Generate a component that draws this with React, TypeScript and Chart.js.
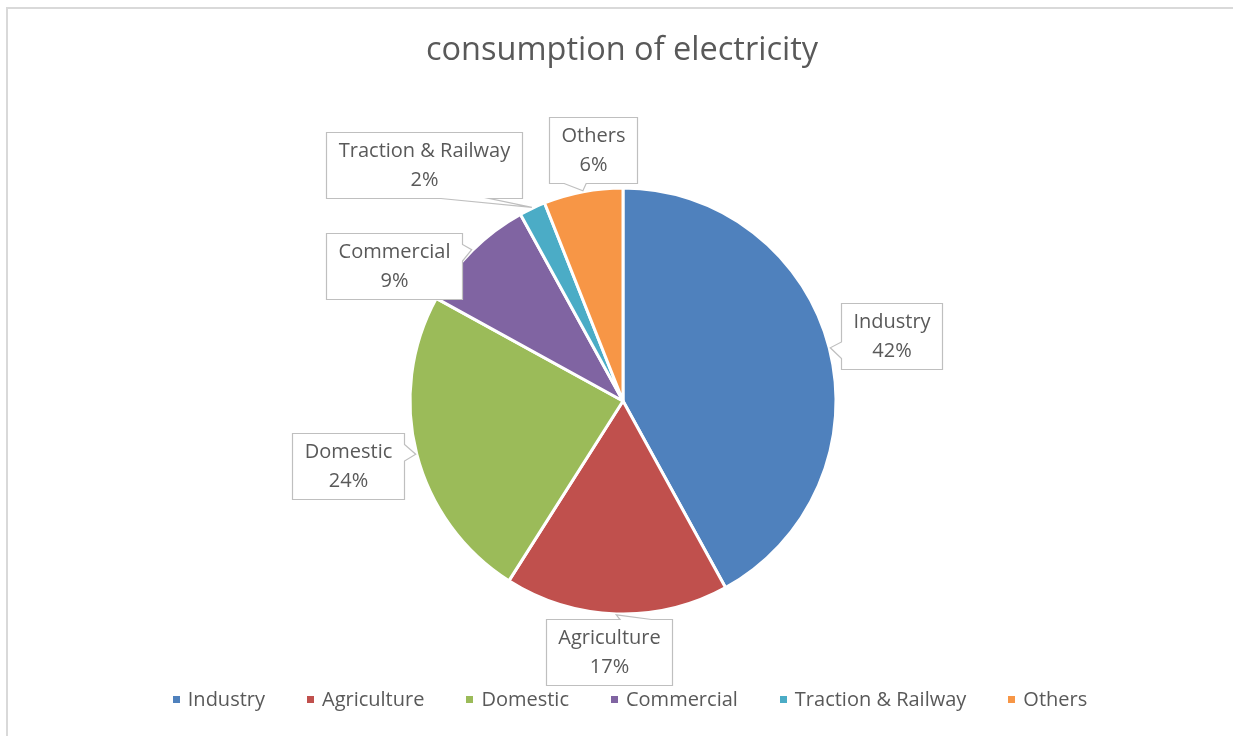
import React, { useEffect, useRef } from "react";
import { Chart, registerables } from "chart.js";

Chart.register(...registerables);

const titleText = "consumption of electricity";
const categories = ["Industry", "Agriculture", "Domestic", "Commercial", "Traction & Railway", "Others"];
const shares = [42, 17, 24, 9, 2, 6];
const colors = ["#4F81BD", "#C0504D", "#9BBB59", "#8064A2", "#4BACC6", "#F79646"];
// callout box centre offsets relative to the slice's outer mid point (layout only)
const labelOffsets = [
  [61.5, -11.5],
  [-7, 37.5],
  [-68, 12],
  [-78, 16],
  [-108, -42],
  [10.5, -41],
];

const TEXT = "#595959";
const FONT = '"Open Sans", "Noto Sans", sans-serif';
const LABEL_SIZE = 20;
const LINE_H = 29;

function drawCallout(ctx: CanvasRenderingContext2D, l: number, t: number, w: number, h: number, tx: number, ty: number) {
  const r = l + w, b = t + h, hc = l + w / 2, vc = t + h / 2;
  const dx = tx - hc, dy = ty - vc;
  const dq = (dx * h) / w;
  const inside = tx > l && tx < r && ty > t && ty < b;
  const vertical = Math.abs(dy) > Math.abs(dq);
  const xf = dx > 0 ? [7, 10] : [2, 5];
  const yf = dy > 0 ? [7, 10] : [2, 5];
  const x1 = l + (w * xf[0]) / 12, x2 = l + (w * xf[1]) / 12;
  const y1 = t + (h * yf[0]) / 12, y2 = t + (h * yf[1]) / 12;
  ctx.beginPath();
  ctx.moveTo(l, t);
  if (!inside && vertical && dy < 0) { ctx.lineTo(x1, t); ctx.lineTo(tx, ty); ctx.lineTo(x2, t); }
  ctx.lineTo(r, t);
  if (!inside && !vertical && dx > 0) { ctx.lineTo(r, y1); ctx.lineTo(tx, ty); ctx.lineTo(r, y2); }
  ctx.lineTo(r, b);
  if (!inside && vertical && dy > 0) { ctx.lineTo(x2, b); ctx.lineTo(tx, ty); ctx.lineTo(x1, b); }
  ctx.lineTo(l, b);
  if (!inside && !vertical && dx < 0) { ctx.lineTo(l, y2); ctx.lineTo(tx, ty); ctx.lineTo(l, y1); }
  ctx.closePath();
  ctx.fillStyle = "#FFFFFF";
  ctx.fill();
  ctx.strokeStyle = "#BFBFBF";
  ctx.lineWidth = 1.2;
  ctx.stroke();
}

const decorPlugin = {
  id: "decor",
  beforeDraw(chart: any) {
    const ctx: CanvasRenderingContext2D = chart.ctx;
    ctx.save();
    ctx.fillStyle = "#FFFFFF";
    ctx.fillRect(0, 0, chart.width, chart.height);
    ctx.strokeStyle = "#D9D9D9";
    ctx.lineWidth = 2;
    ctx.strokeRect(7, 8, chart.width + 20, chart.height + 20);
    ctx.fillStyle = TEXT;
    ctx.font = `32.5px ${FONT}`;
    ctx.textAlign = "center";
    ctx.textBaseline = "middle";
    ctx.fillText(titleText, 622, 51);
    ctx.restore();
  },
  afterDatasetsDraw(chart: any) {
    const ctx: CanvasRenderingContext2D = chart.ctx;
    const meta = chart.getDatasetMeta(0);
    const data: number[] = chart.data.datasets[0].data;
    const total = data.reduce((a, v) => a + v, 0);
    ctx.save();
    ctx.font = `${LABEL_SIZE}px ${FONT}`;
    ctx.textAlign = "center";
    ctx.textBaseline = "middle";
    meta.data.forEach((arc: any, i: number) => {
      const mid = (arc.startAngle + arc.endAngle) / 2;
      const rr = arc.outerRadius + 1;
      const tx = arc.x + Math.cos(mid) * rr;
      const ty = arc.y + Math.sin(mid) * rr;
      const line1 = String(chart.data.labels[i]);
      const line2 = Math.round((data[i] / total) * 100) + "%";
      const tw = Math.max(ctx.measureText(line1).width, ctx.measureText(line2).width);
      const w = Math.round(tw + 24);
      const h = 66;
      const cx = tx + labelOffsets[i][0];
      const cy = ty + labelOffsets[i][1];
      const l = Math.round(cx - w / 2) + 0.5;
      const t = Math.round(cy - h / 2) + 0.5;
      drawCallout(ctx, l, t, w, h, tx, ty);
      ctx.fillStyle = TEXT;
      ctx.fillText(line1, l + w / 2, t + h / 2 - LINE_H / 2 + 0.5);
      ctx.fillText(line2, l + w / 2, t + h / 2 + LINE_H / 2 + 0.5);
    });

    // legend
    const box = 7, boxGap = 8, itemGap = 42;
    const widths = categories.map((c) => ctx.measureText(c).width);
    const totalW = widths.reduce((a, v) => a + v + box + boxGap, 0) + itemGap * (categories.length - 1);
    let x = 630 - totalW / 2;
    const ly = 700;
    ctx.textAlign = "left";
    categories.forEach((c, i) => {
      ctx.fillStyle = colors[i];
      ctx.fillRect(Math.round(x), ly - 4, box, box);
      ctx.fillStyle = TEXT;
      ctx.fillText(c, x + box + boxGap, ly + 0.5);
      x += box + boxGap + widths[i] + itemGap;
    });
    ctx.restore();
  },
};

export default function App() {
  const ref = useRef<HTMLCanvasElement | null>(null);
  useEffect(() => {
    if (!ref.current) return;
    const chart = new Chart(ref.current, {
      type: "pie",
      data: {
        labels: categories,
        datasets: [
          {
            data: shares,
            backgroundColor: colors,
            borderColor: "#FFFFFF",
            borderWidth: 3,
            radius: 213,
          } as any,
        ],
      },
      options: {
        responsive: false,
        animation: false,
        layout: { padding: { left: 13, right: 0, top: 100, bottom: 34 } },
        plugins: {
          legend: { display: false },
          title: { display: false },
          tooltip: { enabled: false },
        },
      },
      plugins: [decorPlugin],
    });
    return () => chart.destroy();
  }, []);
  return (
    <div style={{ position: "absolute", left: 0, top: 0, width: 1233, height: 736, background: "#fff" }}>
      <canvas ref={ref} width={1233} height={736} style={{ display: "block" }} />
    </div>
  );
}
